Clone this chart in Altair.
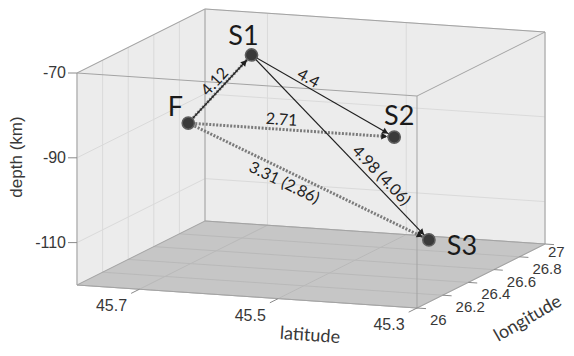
import altair as alt
import pandas as pd

# ---------------- data ----------------
LAT_RANGE = [45.3, 45.79]
LON_RANGE = [26.0, 27.0]
DEPTH_RANGE = [-120.0, -70.0]
lat_ticks = [45.7, 45.5, 45.3]
lon_ticks = [26, 26.2, 26.4, 26.6, 26.8, 27]
depth_ticks = [-70, -90, -110]

names = ["F", "S1", "S2", "S3"]
ev_lat = [45.737, 45.668, 45.440, 45.350]
ev_lon = [26.582, 26.702, 26.581, 26.364]
ev_depth = [-90, -75, -90, -110]

link_from = ["F", "S1", "F", "S1", "F"]
link_to = ["S1", "S2", "S2", "S3", "S3"]
link_text = ["4.12", "4.4", "2.71", "4.98 (4.06)", "3.31 (2.86)"]
link_kind = ["both", "solid", "dotted", "solid", "dotted"]

axis_titles = ["latitude", "longitude", "depth (km)"]

# ---------------- style (label placement) ----------------
link_label_t = [0.52, 0.37, 0.45, 0.69, 0.42]
link_label_d = [8.5, 8, 9.5, 10, -12]
name_dx = [-13, -8, 5, 33]
name_dy = [-15, -18, -20, 7]

# oblique view projection (screen px)
O = (77, 285)
EU = (340, 23)
EV = (128, -64)
EW = (0, -212)

la0, la1 = LAT_RANGE
lo0, lo1 = LON_RANGE
d0, d1 = DEPTH_RANGE


def proj_exprs(lat, lon, dep):
    u = f"(({la1}-datum['{lat}'])/({la1 - la0}))"
    v = f"((datum['{lon}']-({lo0}))/({lo1 - lo0}))"
    w = f"((datum['{dep}']-({d0}))/({d1 - d0}))"
    X = f"{O[0]}+{EU[0]}*{u}+{EV[0]}*{v}+{EW[0]}*{w}"
    Y = f"{O[1]}+{EU[1]}*{u}+{EV[1]}*{v}+{EW[1]}*{w}"
    return X, Y


def projected(chart, lat="lat", lon="lon", dep="dep", X="X", Y="Y"):
    ex, ey = proj_exprs(lat, lon, dep)
    return chart.transform_calculate(**{X: ex, Y: ey})


W, H = 558, 340
XS = alt.Scale(domain=[8, 8 + W], nice=False, zero=False)
YS = alt.Scale(domain=[8, 8 + H], nice=False, zero=False, reverse=True)


def xenc(f="X"):
    return alt.X(f"{f}:Q", scale=XS, axis=None)


def yenc(f="Y"):
    return alt.Y(f"{f}:Q", scale=YS, axis=None)


# ---------------- faces ----------------
faces = {
    "left": [(la1, lo0, d0), (la1, lo1, d0), (la1, lo1, d1), (la1, lo0, d1)],
    "back": [(la1, lo1, d0), (la0, lo1, d0), (la0, lo1, d1), (la1, lo1, d1)],
    "floor": [(la1, lo0, d0), (la0, lo0, d0), (la0, lo1, d0), (la1, lo1, d0)],
}
face_rows = []
for fname, verts in faces.items():
    for k, (a, b, c) in enumerate(verts + [verts[0]]):
        face_rows.append(dict(face=fname, k=k, lat=a, lon=b, dep=c))
face_df = pd.DataFrame(face_rows)


def face_layer(fname, fill):
    return projected(
        alt.Chart(face_df[face_df.face == fname]).mark_line(
            fill=fill, stroke=fill, strokeWidth=0.5, interpolate="linear"
        )
    ).encode(x=xenc(), y=yenc(), order="k:Q", detail="face:N")


# ---------------- segments ----------------
def seg_df(pairs):
    return pd.DataFrame(
        [dict(lat1=a[0], lon1=a[1], dep1=a[2], lat2=b[0], lon2=b[1], dep2=b[2]) for a, b in pairs]
    )


def seg_layer(df, **style):
    c = alt.Chart(df).mark_rule(**style)
    c = projected(c, "lat1", "lon1", "dep1", "X1", "Y1")
    c = projected(c, "lat2", "lon2", "dep2", "X2", "Y2")
    return c.encode(x=xenc("X1"), y=yenc("Y1"), x2="X2:Q", y2="Y2:Q")


wall_grid = []
for lo in lon_ticks:
    wall_grid.append(((la1, lo, d0), (la1, lo, d1)))
for dp in depth_ticks:
    wall_grid.append(((la1, lo0, dp), (la1, lo1, dp)))
for la in lat_ticks:
    wall_grid.append(((la, lo1, d0), (la, lo1, d1)))
for dp in depth_ticks:
    wall_grid.append(((la1, lo1, dp), (la0, lo1, dp)))

floor_grid = []
for la in lat_ticks:
    floor_grid.append(((la, lo0, d0), (la, lo1, d0)))
for lo in lon_ticks:
    floor_grid.append(((la1, lo, d0), (la0, lo, d0)))

edges = []
for lo in (lo0, lo1):
    for dp in (d0, d1):
        edges.append(((la1, lo, dp), (la0, lo, dp)))
for la in (la0, la1):
    for dp in (d0, d1):
        edges.append(((la, lo0, dp), (la, lo1, dp)))
for la in (la0, la1):
    for lo in (lo0, lo1):
        edges.append(((la, lo, d0), (la, lo, d1)))

# axis ticks
lat_tick_segs = [((la, lo0, d0), (la, lo0 - 0.065, d0)) for la in lat_ticks]
lon_tick_segs = [((la0, lo, d0), (la0 - 0.013, lo, d0)) for lo in lon_ticks]

depth_tick_df = pd.DataFrame(dict(lat=la1, lon=lo0, dep=depth_ticks,
                                  lab=[str(d) for d in depth_ticks]))
depth_tick_layer = projected(alt.Chart(depth_tick_df).mark_rule(color="#8a8a8a", strokeWidth=1)) \
    .transform_calculate(X0="datum.X-9") \
    .encode(x=xenc("X0"), x2="X:Q", y=yenc())

lab_font = "Liberation Sans"
lab_col = "#383838"
depth_labels = projected(alt.Chart(depth_tick_df).mark_text(
    align="right", baseline="middle", dx=-11, fontSize=16, font=lab_font, color=lab_col)
).encode(x=xenc(), y=yenc(), text="lab:N")

lat_lab_df = pd.DataFrame(dict(lat=lat_ticks, lon=lo0, dep=d0,
                               lab=[f"{v:.1f}" for v in lat_ticks]))
lat_labels = projected(alt.Chart(lat_lab_df).mark_text(
    align="center", baseline="middle", dx=-28, dy=17, fontSize=16, font=lab_font, color=lab_col)
).encode(x=xenc(), y=yenc(), text="lab:N")

lon_lab_df = pd.DataFrame(dict(lat=la0, lon=lon_ticks, dep=d0,
                               lab=[f"{v:g}" for v in lon_ticks]))
lon_limit = 8 + W - 18
lon_labels = projected(alt.Chart(lon_lab_df).mark_text(
    align="left", baseline="middle", fontSize=15, font=lab_font, color=lab_col)
).transform_calculate(
    LX=f"min(datum.X+13, {lon_limit})",
    LY=f"datum.Y+12-(datum.X+13>{lon_limit}?4:0)",
).encode(x=xenc("LX"), y=yenc("LY"), text="lab:N")

# axis titles: anchored at axis points, with screen offsets and rotation (style)
title_df = pd.DataFrame(dict(
    t=axis_titles,
    lat=[45.45, la0, la1], lon=[lo0, 26.5, lo0], dep=[d0, d0, -95],
    ox=[-3, 47, -60], oy=[35, 43, -22], rot=[4, 330, 270],
    fnt=["Lato", "Lato", lab_font],
))
titles = projected(alt.Chart(title_df).mark_text(
    align="center", baseline="middle", fontSize=18, color=lab_col)
).transform_calculate(TX="datum.X+datum.ox", TY="datum.Y+datum.oy").encode(
    x=xenc("TX"), y=yenc("TY"), text="t:N",
    angle=alt.Angle("rot:Q", scale=None),
)
titles_lato = titles.transform_filter("datum.fnt == 'Lato'").mark_text(
    align="center", baseline="middle", fontSize=18, color=lab_col, font="Lato")
titles_lib = titles.transform_filter("datum.fnt != 'Lato'").mark_text(
    align="center", baseline="middle", fontSize=17, color=lab_col, font=lab_font)

# ---------------- events & links ----------------
ev_df = pd.DataFrame(dict(name=names, lat=ev_lat, lon=ev_lon, dep=ev_depth, ndx=name_dx, ndy=name_dy))
lk = pd.DataFrame(dict(src=link_from, dst=link_to, txt=link_text, kind=link_kind,
                       t=link_label_t, d=link_label_d))
lk = lk.merge(ev_df[["name", "lat", "lon", "dep"]].rename(columns=dict(name="src", lat="lat1", lon="lon1", dep="dep1")), on="src")
lk = lk.merge(ev_df[["name", "lat", "lon", "dep"]].rename(columns=dict(name="dst", lat="lat2", lon="lon2", dep="dep2")), on="dst")


def link_proj(c):
    c = projected(c, "lat1", "lon1", "dep1", "X1", "Y1")
    c = projected(c, "lat2", "lon2", "dep2", "X2", "Y2")
    return c.transform_calculate(
        ang="atan2(datum.Y2-datum.Y1, datum.X2-datum.X1)",
        len="sqrt(pow(datum.X2-datum.X1,2)+pow(datum.Y2-datum.Y1,2))",
    ).transform_calculate(
        AX="datum.X2-10*cos(datum.ang)",
        AY="datum.Y2-10*sin(datum.ang)",
        rot="(datum.ang*180/PI+90+360)%360",
        tang="(datum.ang*180/PI+360)%360",
        LX="datum.X1+datum.t*(datum.X2-datum.X1)+datum.d*(datum.Y2-datum.Y1)/datum.len",
        LY="datum.Y1+datum.t*(datum.Y2-datum.Y1)-datum.d*(datum.X2-datum.X1)/datum.len",
    )


dotted_df = lk[lk.kind.isin(["dotted", "both"])]
solid_df = lk[lk.kind.isin(["solid", "both"])]

dotted_layer = link_proj(alt.Chart(dotted_df).mark_rule(
    color="#7b7b7b", strokeWidth=3, strokeDash=[2, 1.5])).encode(
    x=xenc("X1"), y=yenc("Y1"), x2="X2:Q", y2="Y2:Q")
solid_layer = link_proj(alt.Chart(solid_df).mark_rule(
    color="#1f1f1f", strokeWidth=1.2)).encode(
    x=xenc("X1"), y=yenc("Y1"), x2="X2:Q", y2="Y2:Q")
arrow_layer = link_proj(alt.Chart(lk).mark_point(
    shape="triangle-up", filled=True, size=45, color="#1f1f1f", opacity=1)).encode(
    x=xenc("AX"), y=yenc("AY"), angle=alt.Angle("rot:Q", scale=None))
link_labels = link_proj(alt.Chart(lk).mark_text(
    align="center", baseline="middle", fontSize=16, font="Lato", color="#222222")).encode(
    x=xenc("LX"), y=yenc("LY"), text="txt:N", angle=alt.Angle("tang:Q", scale=None))

points = projected(alt.Chart(ev_df).mark_circle(
    size=150, color="#3a3a3a", opacity=1, stroke="#5e5e5e", strokeWidth=1.5)).encode(
    x=xenc(), y=yenc())
name_labels = projected(alt.Chart(ev_df).mark_text(
    align="center", baseline="middle", fontSize=27, font="Lato", color="#1a1a1a")
).transform_calculate(NX="datum.X+datum.ndx", NY="datum.Y+datum.ndy").encode(
    x=xenc("NX"), y=yenc("NY"), text="name:N")

chart = alt.layer(
    face_layer("left", "#ececec"),
    face_layer("back", "#ececec"),
    face_layer("floor", "#c6c6c6"),
    seg_layer(seg_df(wall_grid), color="#dadada", strokeWidth=1),
    seg_layer(seg_df(floor_grid), color="#b9b9b9", strokeWidth=1),
    seg_layer(seg_df(edges), color="#a3a3a3", strokeWidth=1),
    seg_layer(seg_df(lat_tick_segs), color="#8a8a8a", strokeWidth=1),
    seg_layer(seg_df(lon_tick_segs), color="#8a8a8a", strokeWidth=1),
    depth_tick_layer,
    depth_labels, lat_labels, lon_labels,
    titles_lato, titles_lib,
    dotted_layer, solid_layer, arrow_layer,
    points, link_labels, name_labels,
).properties(
    width=W, height=H, autosize="none", padding=0, background="white"
).configure_view(stroke=None)

chart.save("out.html", embed_options={"renderer": "svg", "actions": False})
